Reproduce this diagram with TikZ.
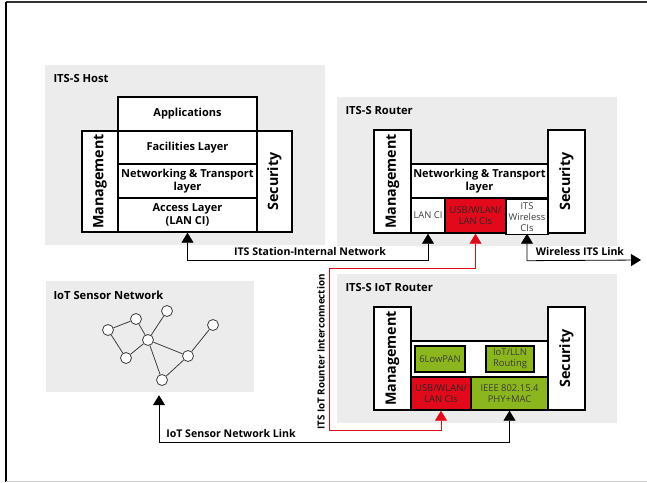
\documentclass[tikz,border=0pt]{standalone}
\usepackage{fontspec}
\setmainfont{Open Sans}
\usepackage{tikz}
\usetikzlibrary{arrows.meta}
\definecolor{bggray}{RGB}{236,236,236}
\definecolor{itsred}{RGB}{226,10,26}
\definecolor{itsgreen}{RGB}{140,182,30}
\definecolor{txtgray}{RGB}{60,60,60}
\begin{document}
\begin{tikzpicture}[x=1pt,y=-1pt]
	\tikzstyle{layer}=[draw=black,line width=1.4pt,fill=white,inner sep=0pt,align=center,font=\bfseries\fontsize{11}{12.5}\selectfont]
	\tikzstyle{side}=[layer,rotate=90,font=\bfseries\fontsize{14.3}{15}\selectfont]
	\tikzstyle{ci}=[layer,font=\fontsize{9.4}{11}\selectfont,text=txtgray]
	\tikzstyle{redci}=[ci,fill=itsred,text=black!85]
	\tikzstyle{zone}=[fill=bggray,draw=none]
	\tikzstyle{title}=[anchor=west,font=\bfseries\fontsize{11.2}{13}\selectfont]
	\tikzstyle{sensor}=[circle,draw=txtgray,fill=white,line width=0.8pt,minimum size=11pt,inner sep=0pt]
	\tikzstyle{link}=[line width=0.8pt,{Triangle[width=12pt,length=10pt]}-{Triangle[width=12pt,length=10pt]}]
	\tikzstyle{lbl}=[font=\bfseries\fontsize{10.6}{13}\selectfont]
	\useasboundingbox (0,0) rectangle (647,482);
	\fill[white] (0,0) rectangle (647,482);
	% frame
	\draw[black!80,line width=2pt] (6,2) -- (647,2);
	\draw[black,line width=2pt] (6,2) -- (6,482);
	\draw[black!20,line width=1pt] (6,481.5) -- (647,481.5);
	% grey areas
	\fill[zone] (45,65) rectangle (325,245);
	\fill[zone] (337,97) rectangle (617,246);
	\fill[zone] (337,274) rectangle (617,423);
	\node[zone,minimum width=208pt,minimum height=111pt,inner sep=0pt](sens) at (150,336.5) {};
	\node[title] (th) at (50,78) {ITS-S Host};
	\node[title] (tr) at (342,110) {ITS-S Router};
	\node[title] (ti) at (342,287) {ITS-S IoT Router};
	\node[title] (ts) at (50,295) {IoT Sensor Network};
	% ITS-S host
	\node[layer,minimum width=139pt,minimum height=34pt](app) at (187.5,114) {Applications};
	\node[layer,minimum width=139pt,minimum height=33pt](fac) at (187.5,147.5) {Facilities Layer};
	\node[layer,minimum width=139pt,minimum height=34pt](net) at (187.5,181) {Networking \& Transport\\layer};
	\node[layer,minimum width=139pt,minimum height=34pt](acc) at (187.5,215) {Access Layer\\(LAN CI)};
	\node[side,minimum width=101pt,minimum height=36pt](mgmt) at (100,181.5) {Management};
	\node[side,minimum width=101pt,minimum height=35pt](sec) at (274.5,181.5) {Security};
	% ITS-S router
	\node[side,minimum width=103pt,minimum height=37pt](rmgmt) at (392.5,181.5) {Management};
	\node[side,minimum width=103pt,minimum height=37pt](rsec) at (566.5,181.5) {Security};
	\node[layer,minimum width=137pt,minimum height=34pt](rnet) at (479.5,181) {Networking \& Transport\\layer};
	\node[ci,minimum width=34pt,minimum height=35pt](rlan) at (428,215.5) {LAN CI};
	\node[redci,minimum width=61pt,minimum height=35pt](rusb) at (475.5,215.5) {USB/WLAN/\\LAN CIs};
	\node[ci,minimum width=42pt,minimum height=35pt,font=\fontsize{9.4}{11}\selectfont](rits) at (527,217) {ITS\\Wireless\\CIs};
	% ITS-S IoT router
	\node[side,minimum width=103pt,minimum height=37pt](imgmt) at (392.5,358.5) {Management};
	\node[side,minimum width=103pt,minimum height=37pt](isec) at (566.5,358.5) {Security};
	\node[layer,minimum width=137pt,minimum height=36pt](iup) at (479.5,359) {};
	\node[ci,fill=itsgreen,minimum width=50pt,minimum height=26pt](low) at (440,359) {6LowPAN};
	\node[ci,fill=itsgreen,minimum width=48pt,minimum height=26pt](llr) at (510,359) {IoT/LLN\\Routing};
	\node[redci,minimum width=60pt,minimum height=33pt](iusb) at (441,393.5) {USB/WLAN/\\LAN CIs};
	\node[ci,fill=itsgreen,minimum width=77pt,minimum height=33pt](ieee) at (509.5,393.5) {IEEE 802.15.4\\PHY+MAC};
	% sensor network
	\node[sensor](s1) at (108,330) {};
	\node[sensor](s2) at (136,319) {};
	\node[sensor](s3) at (167,311) {};
	\node[sensor](s4) at (148,340) {};
	\node[sensor](s5) at (126,358) {};
	\node[sensor](s6) at (213,325) {};
	\node[sensor](s7) at (188,356) {};
	\node[sensor](s8) at (162,380) {};
	\foreach \a/\b in {s1/s2,s2/s4,s1/s5,s5/s4,s4/s3,s4/s7,s4/s8,s8/s7,s7/s6}
		\draw[txtgray,line width=0.8pt] (\a) -- (\b);
	% links
	\draw[link] (acc.south) -- ++(0,28) -| (rlan.south);
	\node[lbl](lnet) at (310,252) {ITS Station-Internal Network};
	\coordinate (wend) at (641,260);
	\draw[link] (rlan.south -| rits.south) -- ++(0,27) -- (wend);
	\node[lbl](lwir) at (580,252) {Wireless ITS Link};
	\draw[link,itsred] (rusb.south) -- ++(0,35) -| (329,430) -| (iusb.south);
	\node[lbl,rotate=90,font=\bfseries\fontsize{9.8}{12}\selectfont](lint) at (321,352) {ITS IoT Rounter Interconnection};
	\draw[link] (ieee.south) -- ++(0,32) -| ([xshift=9pt,yshift=-3pt]sens.south);
	\node[lbl](lsen) at (231,434) {IoT Sensor Network Link};
\end{tikzpicture}
\end{document}
